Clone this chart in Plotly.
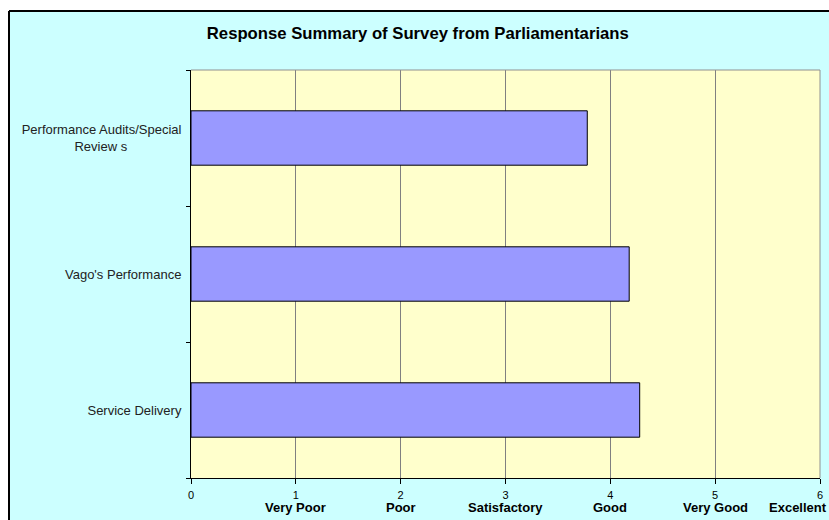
import plotly.graph_objects as go

categories = ["Service Delivery", "Vago's Performance",
              "Performance Audits/Special<br>Review s" + "\u00a0" * 15]
scores = [4.28, 4.18, 3.78]
tick_values = [0, 1, 2, 3, 4, 5, 6]
tick_names = ["", "Very Poor", "Poor", "Satisfactory", "Good", "Very Good", "Excellent"]
title_text = "Response Summary of Survey from Parliamentarians"

W, H = 829, 520
L, R, T, B = 191, 9, 70, 42
pw, ph = W - L - R, H - T - B

def px(x):
    return (x - L) / pw

def py(y):
    return (H - B - y) / ph

fig = go.Figure(go.Bar(
    y=categories, x=scores, orientation="h", width=0.4,
    marker=dict(color="#9999FF", line=dict(color="#000000", width=1)),
))

bx, by = px(9), py(11)
shapes = [
    dict(type="rect", xref="paper", yref="paper", x0=px(-20), x1=bx, y0=py(600), y1=py(-20),
         fillcolor="white", line=dict(width=0), layer="below"),
    dict(type="rect", xref="paper", yref="paper", x0=px(-20), x1=px(900), y0=by, y1=py(-20),
         fillcolor="white", line=dict(width=0), layer="below"),
    dict(type="line", xref="paper", yref="paper", x0=bx, x1=bx, y0=py(600), y1=by,
         line=dict(color="black", width=2)),
    dict(type="line", xref="paper", yref="paper", x0=bx, x1=px(900), y0=by, y1=by,
         line=dict(color="black", width=2)),
    dict(type="line", xref="paper", yref="paper", x0=0, x1=1, y0=1, y1=1,
         line=dict(color="#909090", width=1)),
    dict(type="line", xref="paper", yref="paper", x0=1, x1=1, y0=0, y1=1,
         line=dict(color="#909090", width=1)),
]

annotations = [
    dict(x=v, y=py(507), xref="x", yref="paper", text=f"<b>{n}</b>", showarrow=False,
         xanchor="center", yanchor="middle", xshift=(-22 if v == 6 else 0),
         font=dict(size=13, color="#000000"))
    for v, n in zip(tick_values, tick_names) if n
]

fig.update_layout(
    width=W, height=H,
    margin=dict(l=L, r=R, t=T, b=B, autoexpand=False),
    paper_bgcolor="#CCFFFF",
    plot_bgcolor="#FFFFCC",
    showlegend=False,
    bargap=0.6,
    font=dict(family="Arial, Liberation Sans, sans-serif", color="#000000"),
    title=dict(text=f"<b>{title_text}</b>", x=0.504, xanchor="center", y=1 - 33 / H,
               yanchor="middle", font=dict(size=16.7, color="#000000")),
    shapes=shapes,
    annotations=annotations,
    xaxis=dict(range=[0, 6], tickvals=tick_values, ticktext=[str(v) for v in tick_values],
               showgrid=True, gridcolor="#808080", gridwidth=1,
               showline=True, linecolor="#000000", linewidth=1,
               ticks="outside", ticklen=5, tickcolor="#000000",
               tickfont=dict(size=11), zeroline=False, fixedrange=True,
               ticklabeloverflow="allow", ticklabelstandoff=2, automargin=False),
    yaxis=dict(showline=True, linecolor="#000000", linewidth=1,
               ticks="outside", ticklen=4, tickcolor="#000000",
               tickson="boundaries", showgrid=False, automargin=False,
               tickfont=dict(size=13, color="#222222"), ticklabelstandoff=6),
)

fig.write_html("out.html")
